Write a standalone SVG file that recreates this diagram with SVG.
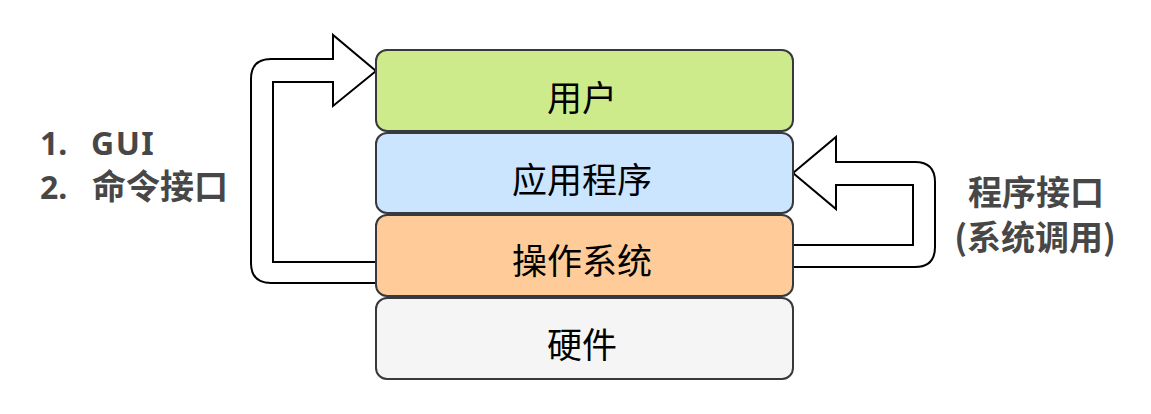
<svg xmlns="http://www.w3.org/2000/svg" width="1151" height="414" viewBox="0 0 1151 414">
<style>
.box{stroke:#36393d;stroke-width:2}
.t{font-family:"Noto Sans CJK SC","Noto Sans",sans-serif;font-size:35px;text-anchor:middle;dominant-baseline:central;fill:#000}
.lbl{font-family:"Noto Sans CJK SC","Noto Sans",sans-serif;font-size:34px;font-weight:bold;fill:#474747}
.lat{font-family:"Noto Sans","Noto Sans CJK SC",sans-serif;font-size:32px;font-weight:bold}
.arr{fill:#fff;stroke:#000;stroke-width:2;stroke-linejoin:miter}
</style>
<rect width="1151" height="414" fill="#fff"/>
<g id="connectors">
<path class="arr" d="M376 262 L273 262 L273 82 L333 82 L333 106 L376 71 L333 35 L333 59 L271 59 Q251 59 251 79 L251 263 Q251 283 271 283 L376 283 Z"/>
<path class="arr" d="M793 245 L913 245 L913 185 L836 185 L836 209 L793 173 L836 137 L836 162 L915 162 Q935 162 935 182 L935 247 Q935 267 915 267 L793 267 Z"/>
</g>
<g id="user">
<rect class="box" x="376" y="50" width="417" height="81" rx="11" fill="#cdeb8b"/>
<text class="t" x="582" y="95">用户</text>
</g>
<g id="app">
<rect class="box" x="376" y="133" width="417" height="80" rx="11" fill="#cce5ff"/>
<text class="t" x="582" y="177">应用程序</text>
</g>
<g id="os">
<rect class="box" x="376" y="215" width="417" height="81" rx="11" fill="#ffcc99"/>
<text class="t" x="582" y="258">操作系统</text>
</g>
<g id="hardware">
<rect class="box" x="376" y="298" width="417" height="81" rx="11" fill="#f5f5f5" stroke="#666"/>
<text class="t" x="582" y="342" fill="#333">硬件</text>
</g>
<g id="left-label">
<text class="lbl" x="40" y="155"><tspan class="lat">1.</tspan><tspan class="lat" x="91" letter-spacing="1.5">GUI</tspan></text>
<text class="lbl" x="40" y="199" font-size="33"><tspan class="lat">2.</tspan><tspan x="92">命令接口</tspan></text>
</g>
<g id="right-label">
<text class="lbl" x="1036" y="205" text-anchor="middle">程序接口</text>
<text class="lbl" x="1035" y="250" text-anchor="middle">(系统调用)</text>
</g>
</svg>
